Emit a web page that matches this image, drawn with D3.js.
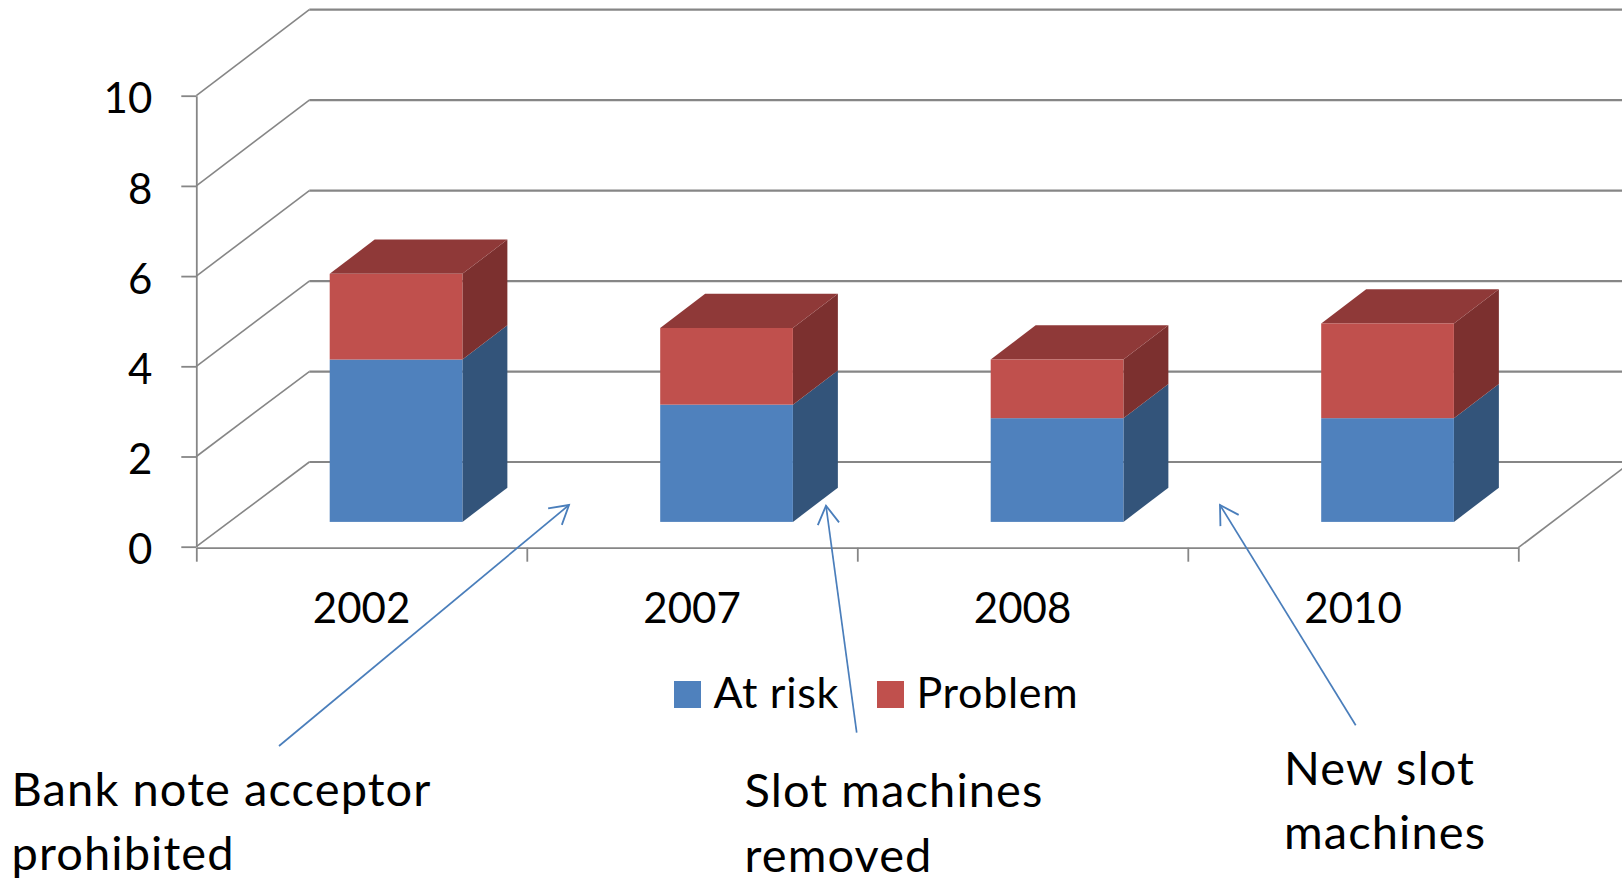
<!DOCTYPE html>
<html>
<head>
<meta charset="utf-8">
<script src="https://cdn.jsdelivr.net/npm/d3@7"></script>
<style>
  html, body { margin: 0; padding: 0; background: #fff; overflow: hidden; }
  svg { display: block; }
  text { font-family: Lato, "Open Sans", sans-serif; fill: #000; }
</style>
</head>
<body>
<div id="chart"></div>
<script>
// values
const years = ["2002", "2007", "2008", "2010"];
const atRisk = [3.6, 2.6, 2.3, 2.3];
const problem = [1.9, 1.7, 1.3, 2.1];
const seriesNames = ["At risk", "Problem"];
const yTicks = [0, 2, 4, 6, 8, 10];
const notes = [
  ["Bank note acceptor", "prohibited"],
  ["Slot machines", "removed"],
  ["New slot", "machines"]
];

const width = 1622, height = 878;
const grid = "#868686", arrowBlue = "#4a7ebb";

// face colours: front, side, top
const faces = {
  "At risk": ["#4f81bd", "#33547a", "#3e658f"],
  "Problem": ["#c0504d", "#7c302f", "#8f3938"]
};

const svg = d3.select("#chart").append("svg")
  .attr("width", width)
  .attr("height", height);

const x = d3.scaleBand().domain(years).range([196.3, 1518.3]);
const xEdge = d3.scaleLinear().domain([0, 4]).range([196.3, 1518.3]);
const y = d3.scaleLinear().domain([0, 10]).range([546.7, 95.7]);
// same values on the back wall
const yBack = d3.scaleLinear().domain([0, 10]).range([462, 9.7]);

// depth goes from 0 (front of floor) to 1 (back wall)
const depthX = d3.scaleLinear().domain([0, 1]).range([0, 113]);
const depthY = d3.scaleLinear().domain([0, 1]).range([0, -86]);
const barFront = 0.302, barBack = 0.70;
const barInset = 34.5;

const line = d3.line();

// back wall lines and the diagonals on the side wall
const wall = svg.append("g").attr("fill", "none").attr("stroke", grid);
yTicks.forEach(t => {
  wall.append("path")
    .attr("stroke-width", 1.6)
    .attr("d", line([[x.range()[0], y(t)], [x.range()[0] + depthX(1), yBack(t)]]));
  wall.append("path")
    .attr("stroke-width", 2.2)
    .attr("d", line([[x.range()[0] + depthX(1), yBack(t)], [x.range()[1] + depthX(1), yBack(t)]]));
});
// right edge of the floor
wall.append("path")
  .attr("stroke-width", 1.6)
  .attr("d", line([[x.range()[1], y(0) + 1], [x.range()[1] + depthX(1), yBack(0)]]));

// axes
svg.append("g")
  .attr("transform", "translate(196.3,0)")
  .call(d3.axisLeft(y).tickValues(yTicks).tickSize(15).tickPadding(29).tickSizeOuter(0))
  .selectAll("text").attr("dy", "0.41em");

svg.append("g")
  .attr("transform", "translate(0,547.7)")
  .call(d3.axisBottom(xEdge).tickValues([0, 1, 2, 3, 4]).tickSize(14).tickFormat("").tickSizeOuter(0));

const xLabelAxis = svg.append("g")
  .attr("transform", "translate(0,547.7)")
  .call(d3.axisBottom(x).tickSize(0).tickPadding(45));
xLabelAxis.select(".domain").remove();

svg.selectAll(".domain, .tick line")
  .attr("stroke", grid)
  .attr("stroke-width", 1.8);
svg.selectAll(".tick text")
  .attr("font-size", 42)
  .style("font-family", "Lato, 'Open Sans', sans-serif")
  .attr("fill", "#000");

// stacked 3D bars, one box per segment
const barWidth = 132.7;
function drawBox(g, left, v0, v1, colours, withTop) {
  const right = left + barWidth;
  const fx = depthX(barBack - barFront);
  const fy = depthY(barBack - barFront);
  const y0 = y(v0) - 24.8, y1 = y(v1) - 24.8;
  const closed = pts => line(pts) + "Z";
  g.append("path").attr("fill", colours[1])
    .attr("d", closed([[right, y0], [right + fx, y0 + fy], [right + fx, y1 + fy], [right, y1]]));
  if (withTop) {
    g.append("path").attr("fill", colours[2])
      .attr("d", closed([[left, y1], [left + fx, y1 + fy], [right + fx, y1 + fy], [right, y1]]));
  }
  g.append("rect").attr("fill", colours[0])
    .attr("x", left).attr("y", y1)
    .attr("width", barWidth).attr("height", y0 - y1);
}

years.forEach((year, i) => {
  const g = svg.append("g").attr("class", "bar");
  const cx = x(year) + x.bandwidth() / 2 + barInset;
  const left = cx - barWidth / 2;
  drawBox(g, left, 0, atRisk[i], faces[seriesNames[0]], false);
  drawBox(g, left, atRisk[i], atRisk[i] + problem[i], faces[seriesNames[1]], true);
});

// legend
const legendX = [674, 877];
const legend = svg.append("g");
seriesNames.forEach((name, i) => {
  legend.append("rect")
    .attr("x", legendX[i]).attr("y", 681)
    .attr("width", 27).attr("height", 27)
    .attr("fill", faces[name][0]);
  legend.append("text")
    .attr("x", legendX[i] + 39.5).attr("y", 708)
    .attr("font-size", 43)
    .attr("letter-spacing", 0.7)
    .text(name);
});

// annotation arrows (open head at the tip)
const defs = svg.append("defs");
defs.append("marker")
  .attr("id", "openArrow")
  .attr("markerUnits", "userSpaceOnUse")
  .attr("markerWidth", 30).attr("markerHeight", 30)
  .attr("viewBox", "-24 -13 28 26")
  .attr("refX", 0).attr("refY", 0)
  .attr("orient", "auto")
  .append("path")
  .attr("d", "M-17,-10L0,0L-17,10")
  .attr("fill", "none")
  .attr("stroke", arrowBlue)
  .attr("stroke-width", 1.7);

const arrowEnds = [
  [[279, 746], [569, 505]],
  [[856.7, 732.7], [826, 505.7]],
  [[1355.7, 725.3], [1220, 505]]
];
arrowEnds.forEach(pts => {
  svg.append("path")
    .attr("d", line(pts))
    .attr("fill", "none")
    .attr("stroke", arrowBlue)
    .attr("stroke-width", 1.7)
    .attr("marker-end", "url(#openArrow)");
});

// annotation text
const notePos = [[11.5, 806], [744.5, 807.3], [1284, 785]];
notes.forEach((rows, i) => {
  rows.forEach((row, r) => {
    svg.append("text")
      .attr("x", notePos[i][0])
      .attr("y", notePos[i][1] + r * 64.3)
      .attr("font-size", 47)
      .attr("letter-spacing", 1.1)
      .text(row);
  });
});
</script>
</body>
</html>
